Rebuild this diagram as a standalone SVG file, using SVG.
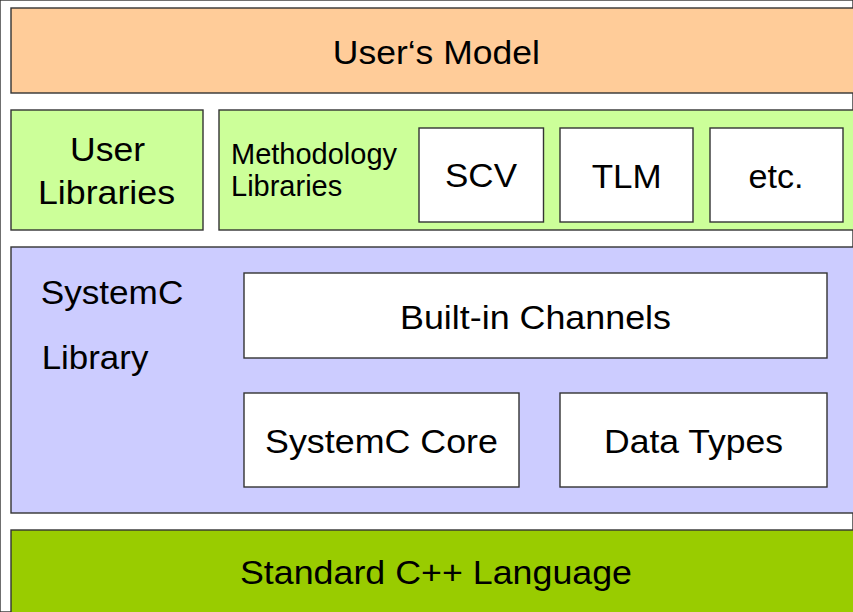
<svg xmlns="http://www.w3.org/2000/svg" width="853" height="612" viewBox="0 0 853 612">
<style>
rect{stroke:#333;stroke-width:1.4}
.t{font-family:"Liberation Sans",Arial,sans-serif;font-size:34px;fill:#000;text-anchor:middle}
.s{font-family:"Liberation Sans",Arial,sans-serif;font-size:29px;fill:#000}
.w{fill:#fff}
</style>
<rect x="0" y="0" width="853" height="612" fill="#fff" stroke="none"/>
<g id="users-model">
<rect x="11" y="8" width="850" height="85" fill="#FFCC99"/>
<text class="t" x="436.3" y="63.5" textLength="207" lengthAdjust="spacingAndGlyphs">User‘s Model</text>
</g>
<g id="user-libraries">
<rect x="11" y="110" width="192" height="120" fill="#CCFF99"/>
<text class="t" x="107.5" y="161" textLength="75" lengthAdjust="spacingAndGlyphs">User</text>
<text class="t" x="106.5" y="204" textLength="137" lengthAdjust="spacingAndGlyphs">Libraries</text>
</g>
<g id="methodology-libraries">
<rect x="219" y="110" width="642" height="120" fill="#CCFF99"/>
<text class="s" x="231" y="164">Methodology</text>
<text class="s" x="231" y="196">Libraries</text>
</g>
<g id="scv">
<rect class="w" x="419" y="128" width="124.5" height="94"/>
<text class="t" x="481" y="187" textLength="72" lengthAdjust="spacingAndGlyphs">SCV</text>
</g>
<g id="tlm">
<rect class="w" x="560" y="128" width="133" height="94"/>
<text class="t" x="626.7" y="188" textLength="70" lengthAdjust="spacingAndGlyphs">TLM</text>
</g>
<g id="etc">
<rect class="w" x="710" y="128" width="133" height="94"/>
<text class="t" x="776" y="188" textLength="55" lengthAdjust="spacingAndGlyphs">etc.</text>
</g>
<g id="systemc-library">
<rect x="11" y="247" width="850" height="266" fill="#CCCCFF"/>
<text class="t" x="112" y="304" textLength="142.6" lengthAdjust="spacingAndGlyphs">SystemC</text>
<text class="t" x="95" y="369" textLength="106.7" lengthAdjust="spacingAndGlyphs">Library</text>
</g>
<g id="built-in-channels">
<rect class="w" x="244" y="273" width="583" height="85"/>
<text class="t" x="535.5" y="329" textLength="271" lengthAdjust="spacingAndGlyphs">Built-in Channels</text>
</g>
<g id="systemc-core">
<rect class="w" x="244" y="393" width="275" height="94"/>
<text class="t" x="381.5" y="453.3" textLength="233" lengthAdjust="spacingAndGlyphs">SystemC Core</text>
</g>
<g id="data-types">
<rect class="w" x="560" y="393" width="267" height="94"/>
<text class="t" x="693.5" y="453.3" textLength="179" lengthAdjust="spacingAndGlyphs">Data Types</text>
</g>
<g id="standard-cpp">
<rect x="11" y="530" width="850" height="100" fill="#99CC00"/>
<text class="t" x="436" y="584.3" textLength="392" lengthAdjust="spacingAndGlyphs">Standard C++ Language</text>
</g>
<g id="connectors"></g>
</svg>
